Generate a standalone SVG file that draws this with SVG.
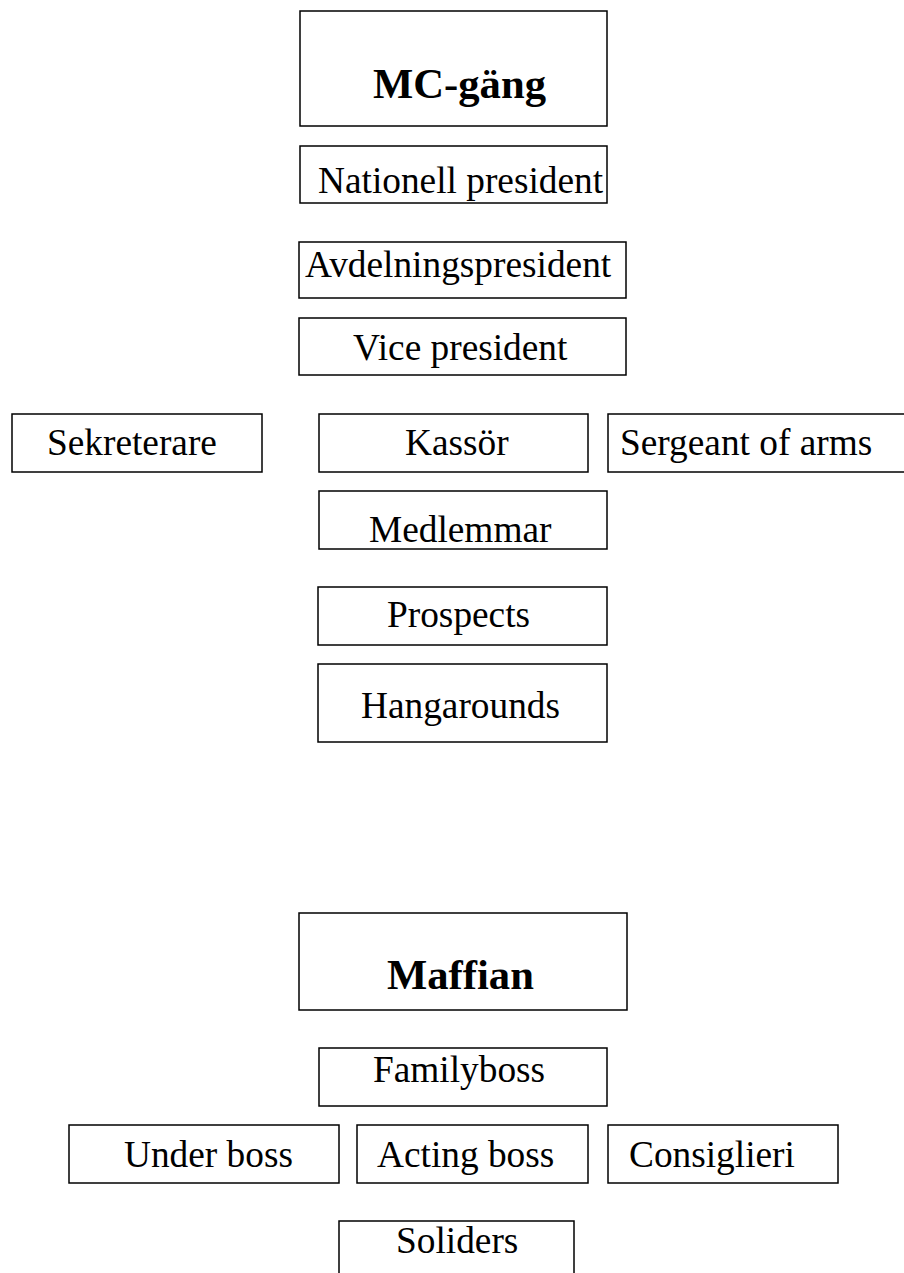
<svg xmlns="http://www.w3.org/2000/svg" width="904" height="1273" viewBox="0 0 904 1273">
<style>
rect{fill:#fff;stroke:#000;stroke-width:1.5}
text{font-family:"Liberation Serif","Times New Roman",serif;font-size:37.33px;fill:#000}
.t{font-weight:bold;font-size:42.67px}
</style>
<rect x="0" y="0" width="904" height="1273" style="stroke:none"/>
<g id="connectors"></g>
<g id="mc"><rect x="300" y="11" width="307" height="115"/><text class="t" x="373" y="98">MC-gäng</text></g>
<g id="nationell"><rect x="300" y="146" width="307" height="57"/><text x="318" y="193">Nationell president</text></g>
<g id="avdelning"><rect x="299" y="242" width="327" height="56"/><text x="305" y="277">Avdelningspresident</text></g>
<g id="vice"><rect x="299" y="318" width="327" height="57"/><text x="353" y="360">Vice president</text></g>
<g id="sekreterare"><rect x="12" y="414" width="250" height="58"/><text x="47" y="455">Sekreterare</text></g>
<g id="kassor"><rect x="319" y="414" width="269" height="58"/><text x="405" y="455">Kassör</text></g>
<g id="sergeant"><rect x="608" y="414" width="300" height="58"/><text x="620" y="455">Sergeant of arms</text></g>
<g id="medlemmar"><rect x="319" y="491" width="288" height="58"/><text x="369" y="542">Medlemmar</text></g>
<g id="prospects"><rect x="318" y="587" width="289" height="58"/><text x="387" y="627">Prospects</text></g>
<g id="hangarounds"><rect x="318" y="664" width="289" height="78"/><text x="361" y="718">Hangarounds</text></g>
<g id="maffian"><rect x="299" y="913" width="328" height="97"/><text class="t" x="387" y="989">Maffian</text></g>
<g id="familyboss"><rect x="319" y="1048" width="288" height="58"/><text x="373" y="1082">Familyboss</text></g>
<g id="underboss"><rect x="69" y="1125" width="270" height="58"/><text x="124" y="1167">Under boss</text></g>
<g id="actingboss"><rect x="357" y="1125" width="231" height="58"/><text x="377" y="1167">Acting boss</text></g>
<g id="consiglieri"><rect x="608" y="1125" width="230" height="58"/><text x="629" y="1167">Consiglieri</text></g>
<g id="soliders"><rect x="339" y="1221" width="235" height="60"/><text x="396" y="1253">Soliders</text></g>
</svg>
